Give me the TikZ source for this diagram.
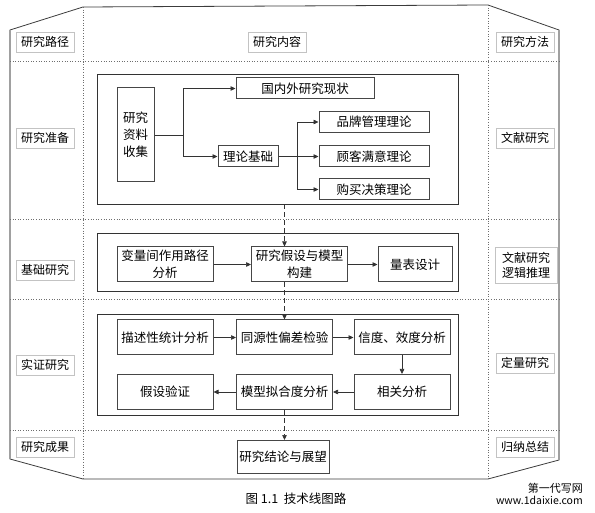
\documentclass[tikz,border=0pt]{standalone}
\usepackage{fontspec}
\setmainfont{Noto Sans CJK SC}
\usetikzlibrary{arrows.meta,positioning,calc}
\definecolor{framecolor}{RGB}{160,160,160}
\definecolor{edgecolor}{RGB}{60,60,60}
\definecolor{boxcolor}{RGB}{70,70,70}
\definecolor{lblcolor}{RGB}{195,195,195}
\definecolor{gridcolor}{RGB}{110,110,110}
\tikzset{
  lblnode/.style = {draw=lblcolor, line width=0.6pt, minimum width=58pt,
                    minimum height=20pt, inner sep=1pt, align=center,
                    font=\fontsize{12}{15}\selectfont},
  content/.style = {draw=boxcolor, line width=1pt, fill=white,
                    minimum height=35pt, inner sep=1pt, align=center,
                    font=\fontsize{12.5}{17}\selectfont},
  group/.style   = {draw=black!80, line width=0.8pt, inner sep=0pt},
  conn/.style    = {-{Triangle[length=5pt,width=4.5pt]},
                    line width=0.7pt, draw=black!80},
  dconn/.style   = {conn, dash pattern=on 5pt off 3pt},
  gridline/.style = {draw=gridcolor, dotted, line width=0.6pt}
}

\begin{document}
\begin{tikzpicture}[x=1pt,y=-1pt]
\useasboundingbox (0,0) rectangle (595,513);

% outer frame
\draw[edgecolor, line width=0.8pt] (10,30) -- (83,7) -- (488,5) -- (559,30)
  -- (559,460) -- (488,479) -- (83,479) -- (10,459) -- cycle;
\draw[framecolor, line width=1.8pt] (10,30) -- (10,459);
\draw[framecolor, line width=1.8pt] (559,30) -- (559,460);

% row and column separators
\foreach \y in {61,219,299,430}{
  \draw[gridline] (10,\y) -- (559,\y);
}
\foreach \x/\t in {83/7,488/5}{
  \draw[gridline] (\x,\t) -- (\x,479);
}

% --- left column: research path ---
\foreach \y/\name/\txt in {42/lpath/研究路径, 138/lprep/研究准备, 270/lbase/基础研究,
                           365/lemp/实证研究, 447/lres/研究成果}{
  \node[lblnode] (\name) at (45,\y) {\txt};
}

% --- right column: research method ---
\foreach \y/\name/\txt in {42/rmeth/研究方法, 138/rlit/文献研究,
                           363/rquant/定量研究, 447/rsum/归纳总结}{
  \node[lblnode] (\name) at (525,\y) {\txt};
}
\node[lblnode, minimum width=62pt, minimum height=36pt] (rlogic) at (526,265) {文献研究\\逻辑推理};

% --- middle column title ---
\node[lblnode] (ccont) at (277,42) {研究内容};

% --- group frames ---
\node[group, minimum width=361pt, minimum height=130pt] (prep) at (277.5,139) {};
\node[group, minimum width=361pt, minimum height=58pt]  (base) at (277.5,262) {};
\node[group, minimum width=361pt, minimum height=101pt] (emp)  at (277.5,364.5) {};

% --- research preparation ---
\node[content, minimum width=37pt, minimum height=94pt] (collect) at (135.5,135) {研究\\资料\\收集};
\node[content, minimum width=138pt, minimum height=21pt] (status) at (305,88.5) {国内外研究现状};
\node[content, minimum width=60pt, minimum height=21pt] (theory) at (248,156.5) {理论基础};
\foreach \y/\name/\txt in {122/brand/品牌管理理论, 156.5/satisf/顾客满意理论, 189.5/decide/购买决策理论}{
  \node[content, minimum width=110pt, minimum height=21pt] (\name) at (374,\y) {\txt};
}
\draw[conn] (collect.east) -- ++(29,0) |- (status.west);
\draw[conn] (collect.east) -- ++(29,0) |- (theory.west);
\foreach \name in {brand,satisf,decide}{
  \draw[conn] (theory.east) -- ++(19,0) |- (\name.west);
}

% --- basic research ---
\node[content, minimum width=96pt] (path)  at (165,264.5)   {变量间作用路径\\分析};
\node[content, minimum width=96pt] (hypo)  at (299.5,264.5) {研究假设与模型\\构建};
\node[content, minimum width=74pt] (scale) at (415,264.5)   {量表设计};
\draw[conn] (path) -- (hypo);
\draw[conn] (hypo) -- (scale);

% --- empirical research ---
\foreach \x/\name/\txt in {165/desc/描述性统计分析, 284.5/bias/同源性偏差检验, 402/rel/信度、效度分析}{
  \node[content, minimum width=96pt] (\name) at (\x,337.5) {\txt};
}
\foreach \x/\name/\txt in {165/test/假设验证, 284.5/fit/模型拟合度分析, 402/corr/相关分析}{
  \node[content, minimum width=96pt] (\name) at (\x,392) {\txt};
}
\draw[conn] (desc) -- (bias);
\draw[conn] (bias) -- (rel);
\draw[conn] (rel) -- (corr);
\draw[conn] (corr) -- (fit);
\draw[conn] (fit) -- (test);

% --- results ---
\node[content, minimum width=92pt, minimum height=33pt] (concl) at (283,457) {研究结论与展望};

% dashed flow between stages
\draw[dconn] (bias.north |- prep.south) -- (bias.north |- hypo.north);
\draw[dconn] (bias.north |- hypo.south) -- (bias.north);
\draw[dconn] (fit.south) -- (fit.south |- concl.north);

% caption and mark
\node[font=\fontsize{12.5}{14}\selectfont] (caption) at (296,499) {图 1.1\ \ 技术线图路};
\node[anchor=east, inner sep=0pt, font=\fontsize{11}{12}\selectfont] (mark1) at (583,488) {第一代写网};
\node[anchor=east, inner sep=0pt, font=\fontsize{10.5}{12}\selectfont] (mark2) at (583,500) {www.1daixie.com};

\end{tikzpicture}
\end{document}
